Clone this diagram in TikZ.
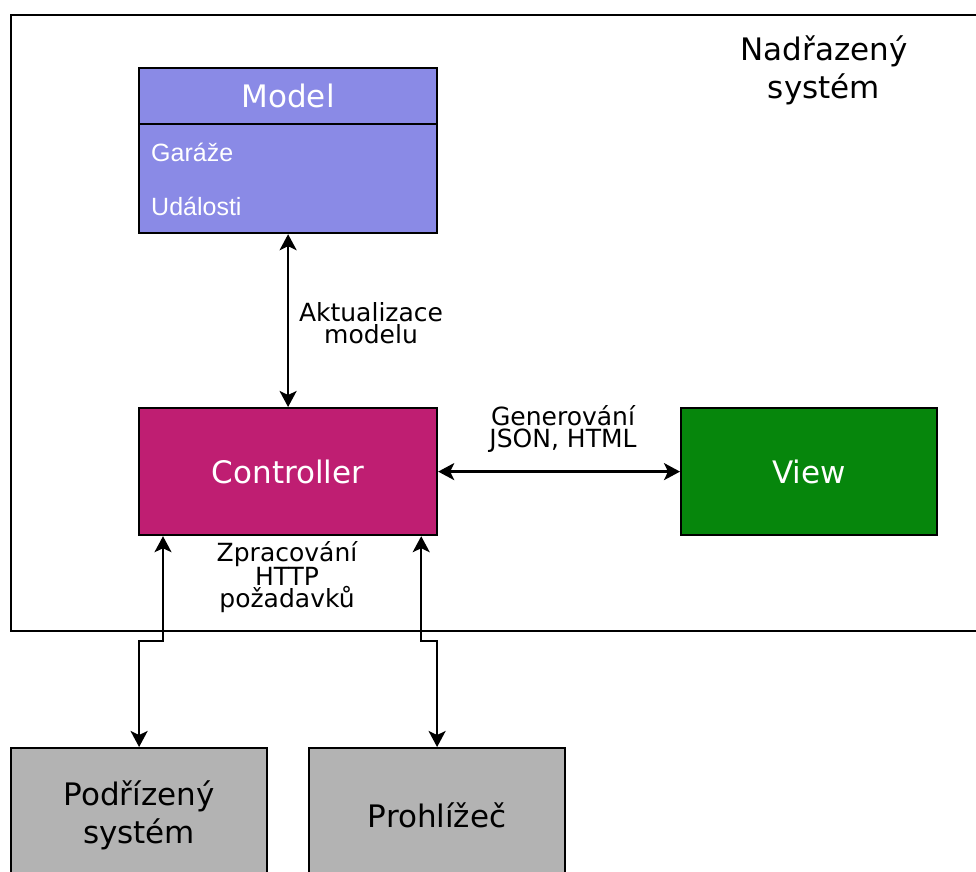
\documentclass[tikz,border=0pt]{standalone}
\usepackage{fontspec}
\setmainfont{DejaVu Sans}
\newfontfamily\itemfont{Liberation Sans}
\usetikzlibrary{arrows.meta,calc}
\definecolor{modelc}{RGB}{138,138,230}
\definecolor{ctrlc}{RGB}{191,30,114}
\definecolor{viewc}{RGB}{6,134,12}
\definecolor{greyc}{RGB}{179,179,179}
\tikzset{
  box/.style={draw=black, line width=2.2pt, rectangle, inner sep=0pt, align=center},
  bigtext/.style={font=\fontsize{31}{38}\selectfont},
  lbl/.style={font=\fontsize{25}{22}\selectfont, align=center, inner sep=0pt},
  itemtext/.style={font=\itemfont\fontsize{25}{30}\selectfont, text=white, inner sep=0pt, anchor=west},
  tipa/.tip={Stealth[length=16pt,width=17pt,inset=4pt]},
  biarrow/.style={line width=2.4pt, tipa-tipa},
}
\begin{document}
\begin{tikzpicture}[x=1pt,y=-1pt]
\useasboundingbox (0,0) rectangle (976,871);
\clip (0,0) rectangle (976,871);
\fill[white] (0,0) rectangle (976,871);
% outer system
\node[box, minimum width=980pt, minimum height=616pt, anchor=north west] (outer) at (10,14) {};
\node[bigtext, align=center, inner sep=0pt] (outerlbl) at (824,70) {Nadřazený\\systém};
% model
\node[box, fill=modelc, minimum width=298pt, minimum height=56pt, anchor=north west, text=white, bigtext] (modelhead) at (138,67) {Model};
\node[box, fill=modelc, minimum width=298pt, minimum height=109pt, anchor=north west] (modelbody) at (138,123) {};
\node[itemtext] (garaze) at (151,152) {Garáže};
\node[itemtext] (udalosti) at (151,206) {Události};
% controller and view
\node[box, fill=ctrlc, minimum width=298pt, minimum height=127pt, anchor=north west, text=white, bigtext] (ctrl) at (138,407) {Controller};
\node[box, fill=viewc, minimum width=256pt, minimum height=127pt, anchor=north west, text=white, bigtext] (view) at (680,407) {View};
% bottom boxes
\node[box, fill=greyc, minimum width=256pt, minimum height=134pt, anchor=north west, bigtext] (sub) at (10,747) {Podřízený\\systém};
\node[box, fill=greyc, minimum width=256pt, minimum height=134pt, anchor=north west, bigtext] (brow) at (308,747) {Prohlížeč};
% connectors
\draw[biarrow] (modelbody.south) -- (ctrl.north);
\node[lbl] (lblmodel) at (371,323) {Aktualizace\\modelu};
\draw[biarrow] (ctrl.east) -- (view.west);
\node[lbl] (lblgen) at (563,429) {Generování\\JSON, HTML};
\draw[biarrow] ([xshift=25pt]ctrl.south west) |- ($(sub.north)+(0,-106)$) -- (sub.north);
\draw[biarrow] ([xshift=-17pt]ctrl.south east) |- ($(brow.north)+(0,-106)$) -- (brow.north);
\node[lbl] (lblhttp) at (287,577) {Zpracování\\HTTP\\požadavků};
\end{tikzpicture}
\end{document}
